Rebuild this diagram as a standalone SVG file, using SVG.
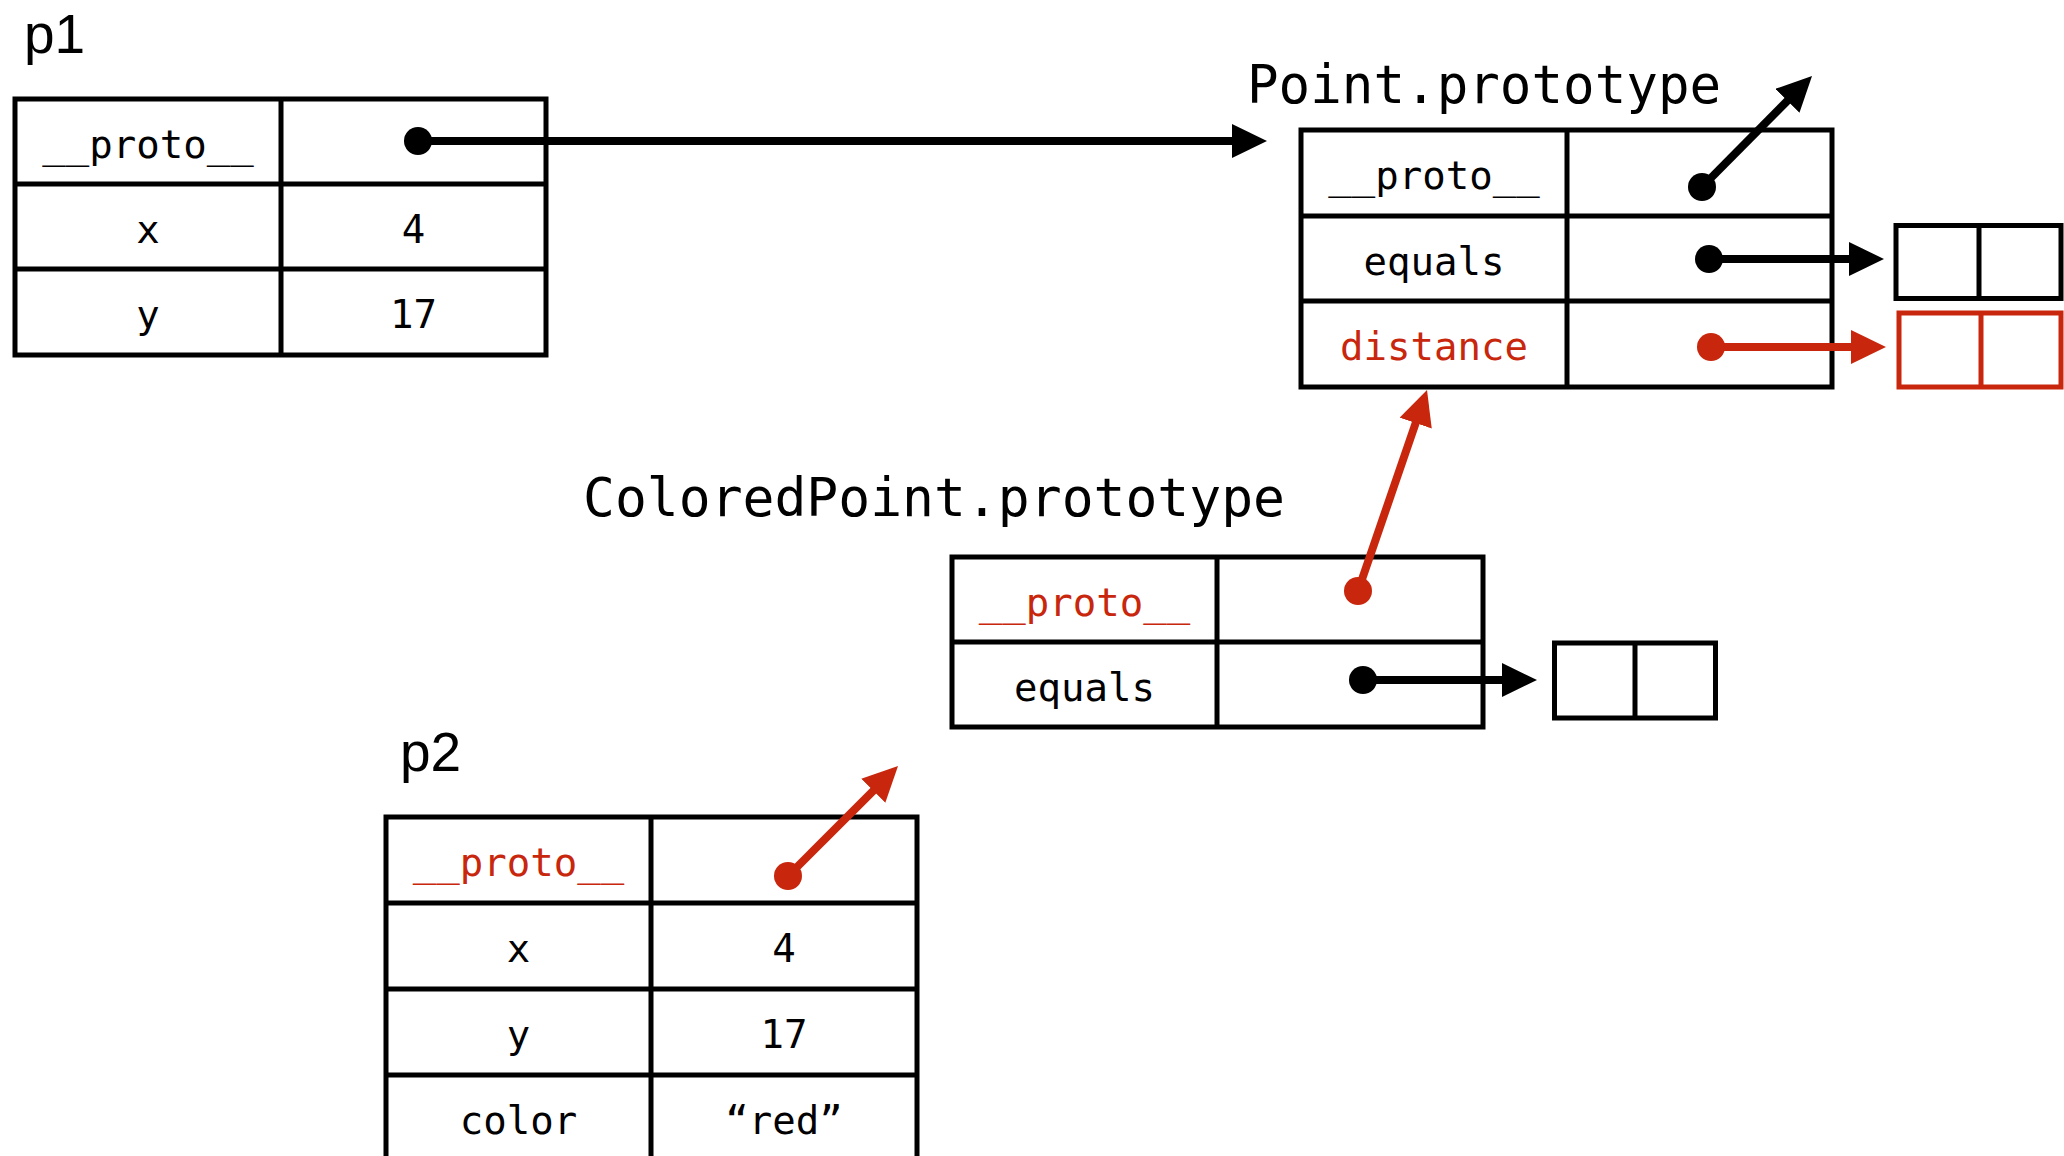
<svg xmlns="http://www.w3.org/2000/svg" width="2064" height="1156" viewBox="0 0 2064 1156">
<style>
  .tbl { fill: none; stroke: #000; stroke-width: 5; }
  .tblr { fill: none; stroke: #C8270D; stroke-width: 5; }
  text { font-family: "DejaVu Sans Mono", "Liberation Mono", monospace; fill: #000; }
  .cell { font-size: 39px; text-anchor: middle; }
  .red { fill: #C8270D; }
  .name { font-family: "Liberation Sans", Arial, sans-serif; font-size: 55px; }
  .big { font-size: 52.5px; }
  .conn { stroke: #000; stroke-width: 8; fill: none; }
  .connr { stroke: #C8270D; stroke-width: 8; fill: none; }
  .dot { fill: #000; }
  .dotr { fill: #C8270D; }
</style>
<defs>
  <marker id="ah" viewBox="0 -17 35 34" refX="2" refY="0" markerWidth="35" markerHeight="34" markerUnits="userSpaceOnUse" orient="auto">
    <path d="M0,-17 L35,0 L0,17 Z" fill="#000"/>
  </marker>
  <marker id="ahr" viewBox="0 -17 35 34" refX="2" refY="0" markerWidth="35" markerHeight="34" markerUnits="userSpaceOnUse" orient="auto">
    <path d="M0,-17 L35,0 L0,17 Z" fill="#C8270D"/>
  </marker>
</defs>
<rect width="2064" height="1156" fill="#fff"/>

<g id="p1">
  <text class="name" x="24" y="53">p1</text>
  <rect class="tbl" x="15" y="99" width="531" height="256"/>
  <line class="tbl" x1="281" y1="99" x2="281" y2="355"/>
  <line class="tbl" x1="15" y1="184" x2="546" y2="184"/>
  <line class="tbl" x1="15" y1="269" x2="546" y2="269"/>
  <text class="cell" x="148" y="157.5">__proto__</text>
  <text class="cell" x="148" y="242.5">x</text>
  <text class="cell" x="413.5" y="242.5">4</text>
  <text class="cell" x="148" y="328">y</text>
  <text class="cell" x="413.5" y="328">17</text>
</g>

<g id="point-prototype">
  <text class="big" x="1247" y="103">Point.prototype</text>
  <rect class="tbl" x="1301" y="130" width="531" height="257"/>
  <line class="tbl" x1="1567" y1="130" x2="1567" y2="387"/>
  <line class="tbl" x1="1301" y1="216" x2="1832" y2="216"/>
  <line class="tbl" x1="1301" y1="301" x2="1832" y2="301"/>
  <text class="cell" x="1434" y="189">__proto__</text>
  <text class="cell" x="1434" y="274.5">equals</text>
  <text class="cell red" x="1434" y="360">distance</text>
</g>

<g id="point-equals-fn">
  <rect class="tbl" x="1896" y="225.5" width="165" height="73"/>
  <line class="tbl" x1="1979" y1="225.5" x2="1979" y2="298.5"/>
</g>

<g id="point-distance-fn">
  <rect class="tblr" x="1899" y="313" width="162" height="74"/>
  <line class="tblr" x1="1981" y1="313" x2="1981" y2="387"/>
</g>

<g id="coloredpoint-prototype">
  <text class="big" x="583" y="516" style="font-size:53px">ColoredPoint.prototype</text>
  <rect class="tbl" x="952" y="557" width="531" height="170"/>
  <line class="tbl" x1="1217" y1="557" x2="1217" y2="727"/>
  <line class="tbl" x1="952" y1="642" x2="1483" y2="642"/>
  <text class="cell red" x="1084.5" y="615.5">__proto__</text>
  <text class="cell" x="1084.5" y="700.5">equals</text>
</g>

<g id="coloredpoint-equals-fn">
  <rect class="tbl" x="1554.5" y="643" width="161" height="75"/>
  <line class="tbl" x1="1635" y1="643" x2="1635" y2="718"/>
</g>

<g id="p2">
  <text class="name" x="400" y="771">p2</text>
  <rect class="tbl" x="386" y="817" width="531" height="350"/>
  <line class="tbl" x1="651" y1="817" x2="651" y2="1167"/>
  <line class="tbl" x1="386" y1="903" x2="917" y2="903"/>
  <line class="tbl" x1="386" y1="989" x2="917" y2="989"/>
  <line class="tbl" x1="386" y1="1075" x2="917" y2="1075"/>
  <text class="cell red" x="518.5" y="876">__proto__</text>
  <text class="cell" x="518.5" y="962">x</text>
  <text class="cell" x="784" y="962">4</text>
  <text class="cell" x="518.5" y="1048">y</text>
  <text class="cell" x="784" y="1048">17</text>
  <text class="cell" x="518.5" y="1134">color</text>
  <text class="cell" x="784" y="1134">“red”</text>
</g>

<g id="connectors">
  <line class="conn" x1="418" y1="141" x2="1234" y2="141" marker-end="url(#ah)"/>
  <circle class="dot" cx="418" cy="141" r="14"/>

  <line class="conn" x1="1702" y1="187" x2="1788.8" y2="99.4" marker-end="url(#ah)"/>
  <circle class="dot" cx="1702" cy="187" r="14"/>

  <line class="conn" x1="1709" y1="259" x2="1851" y2="259" marker-end="url(#ah)"/>
  <circle class="dot" cx="1709" cy="259" r="14"/>

  <line class="connr" x1="1711" y1="347" x2="1853" y2="347" marker-end="url(#ahr)"/>
  <circle class="dotr" cx="1711" cy="347" r="14"/>

  <line class="connr" x1="1358" y1="591" x2="1416.3" y2="421.2" marker-end="url(#ahr)"/>
  <circle class="dotr" cx="1358" cy="591" r="14"/>

  <line class="conn" x1="1363" y1="680" x2="1504" y2="680" marker-end="url(#ah)"/>
  <circle class="dot" cx="1363" cy="680" r="14"/>

  <line class="connr" x1="788" y1="876" x2="874.7" y2="789.3" marker-end="url(#ahr)"/>
  <circle class="dotr" cx="788" cy="876" r="14"/>
</g>
</svg>
